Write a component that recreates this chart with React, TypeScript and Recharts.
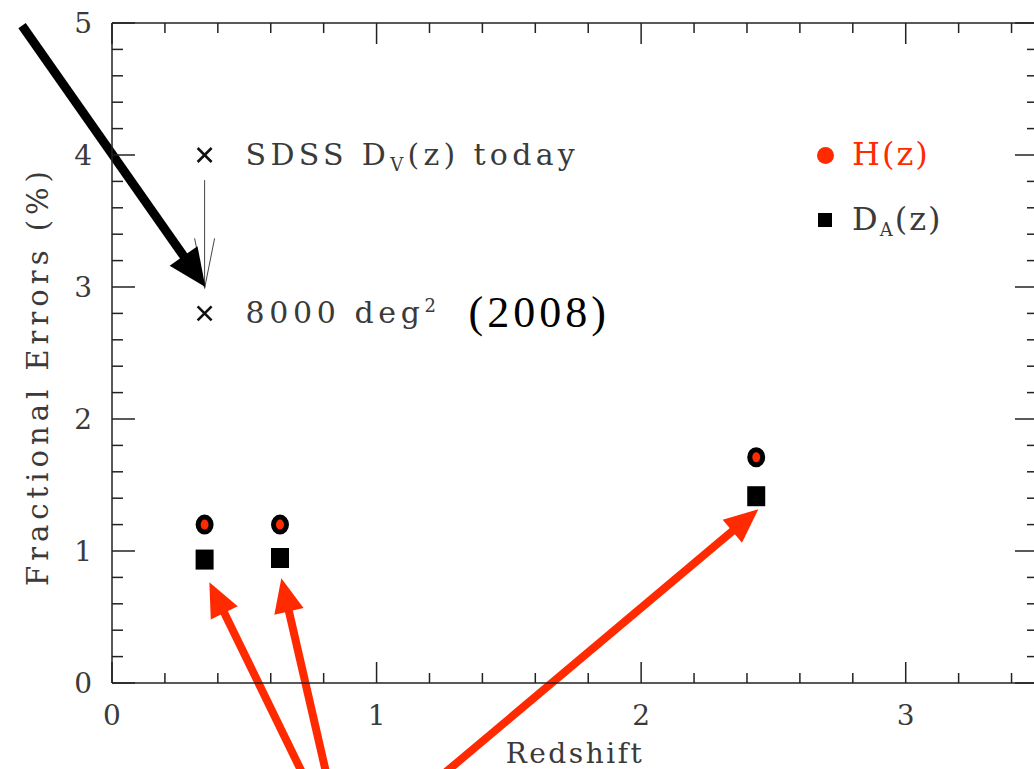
import React from 'react';
import { ScatterChart, Scatter, XAxis, YAxis, ReferenceLine } from 'recharts';

// fractional errors (%) against redshift
const hzRedshift = [0.35, 0.635, 2.435];
const hzError = [1.2, 1.2, 1.71];
const daRedshift = [0.35, 0.635, 2.435];
const daError = [0.935, 0.947, 1.415];
const sdssRedshift = [0.35, 0.35];
const sdssError = [4.0, 2.8];
const sdssLabels = ['today', 'survey'];

const xMajor = [0, 1, 2, 3];
const yMajor = [0, 1, 2, 3, 4, 5];
const xTicks = Array.from({ length: 18 }, (_, i) => Math.round(i * 2) / 10);
const yTicks = Array.from({ length: 26 }, (_, i) => Math.round(i * 2) / 10);

// annotation arrows, [redshift, error] ends
const blackArrow = { from: [-0.34, 4.98], to: [0.353, 3.0] };
const thinArrow = { from: [0.35, 3.81], to: [0.35, 2.99] };
const redArrows = [
  { from: [0.731, -0.73], to: [0.368, 0.763] },
  { from: [0.815, -0.73], to: [0.64, 0.793] },
  { from: [1.229, -0.73], to: [2.443, 1.316] },
];

const hzData = hzRedshift.map((x, i) => ({ x, y: hzError[i] }));
const daData = daRedshift.map((x, i) => ({ x, y: daError[i] }));
const sdssData = sdssRedshift.map((x, i) => ({ x, y: sdssError[i], label: sdssLabels[i] }));

const serif = '"DejaVu Serif", serif';
const grey = '#3a3a3a';
const axisColor = '#222';
const red = '#ff2a00';

const BottomTick = ({ x, y, payload }: any) => {
  const major = xMajor.includes(payload.value);
  return (
    <g>
      <line x1={x} y1={y} x2={x} y2={y - (major ? 21 : 10)} stroke={axisColor} strokeWidth={1.5} />
      {major && (
        <text x={x} y={y + 42} textAnchor="middle" fontFamily={serif} fontSize={28} fill={grey}>
          {payload.value}
        </text>
      )}
    </g>
  );
};

const TopTick = ({ x, y, payload }: any) => {
  const major = xMajor.includes(payload.value);
  return <line x1={x} y1={y} x2={x} y2={y + (major ? 21 : 10)} stroke={axisColor} strokeWidth={1.5} />;
};

const LeftTick = ({ x, y, payload }: any) => {
  const major = yMajor.includes(payload.value);
  return (
    <g>
      <line x1={x} y1={y} x2={x + (major ? 23 : 11)} y2={y} stroke={axisColor} strokeWidth={1.5} />
      {major && (
        <text x={x - 20} y={y + 10} textAnchor="end" fontFamily={serif} fontSize={28} fill={grey}>
          {payload.value}
        </text>
      )}
    </g>
  );
};

const RightTick = ({ x, y, payload }: any) => {
  const major = yMajor.includes(payload.value);
  return <line x1={x} y1={y} x2={x - (major ? 23 : 11)} y2={y} stroke={axisColor} strokeWidth={1.5} />;
};

const YTitle = ({ viewBox }: any) => {
  const cy = viewBox.y + viewBox.height / 2 + 23;
  return (
    <text
      x={38}
      y={cy}
      transform={`rotate(-90, 38, ${cy})`}
      textAnchor="middle"
      dominantBaseline="central"
      fontFamily={serif}
      fontSize={29}
      fill={grey}
      style={{ letterSpacing: 5 }}
    >
      Fractional Errors (%)
    </text>
  );
};

const HzDot = ({ cx, cy }: any) => (
  <ellipse cx={cx} cy={cy} rx={6.5} ry={7.5} fill={red} stroke="#000" strokeWidth={5} />
);

const DaSquare = ({ cx, cy }: any) => <rect x={cx - 9} y={cy - 10} width={18} height={20} fill="#000" />;

const SdssCross = ({ cx, cy, payload }: any) => (
  <g>
    <line x1={cx - 7} y1={cy - 7} x2={cx + 7} y2={cy + 7} stroke="#111" strokeWidth={2.5} />
    <line x1={cx - 7} y1={cy + 7} x2={cx + 7} y2={cy - 7} stroke="#111" strokeWidth={2.5} />
    {payload.label === 'today' ? (
      <text x={cx + 41} y={cy + 10} fontFamily={serif} fontSize={30} fill={grey} style={{ letterSpacing: 4.3 }}>
        SDSS D
        <tspan dy={6} fontSize={18}>V</tspan>
        <tspan dy={-6}>(z) today</tspan>
      </text>
    ) : (
      <g>
        <text x={cx + 41} y={cy + 10} fontFamily={serif} fontSize={30} fill={grey} style={{ letterSpacing: 4.6 }}>
          8000 deg
          <tspan dy={-11} fontSize={18}>2</tspan>
        </text>
        <text x={cx + 264} y={cy + 14} fontFamily='"Liberation Serif", serif' fontSize={44} fill="#000" style={{ letterSpacing: 4 }}>
          (2008)
        </text>
      </g>
    )}
  </g>
);

const arrowShape = (color: string, width: number, headLen: number, headW: number, open = false) => (p: any) => {
  const { x1, y1, x2, y2 } = p;
  const dx = x2 - x1;
  const dy = y2 - y1;
  const len = Math.hypot(dx, dy);
  const ux = dx / len;
  const uy = dy / len;
  const nx = -uy;
  const ny = ux;
  const bx = x2 - ux * headLen;
  const by = y2 - uy * headLen;
  const pts = `${bx + (nx * headW) / 2},${by + (ny * headW) / 2} ${x2},${y2} ${bx - (nx * headW) / 2},${by - (ny * headW) / 2}`;
  if (open) {
    return (
      <g>
        <line x1={x1} y1={y1} x2={x2} y2={y2} stroke={color} strokeWidth={width} />
        <polyline points={pts} fill="none" stroke={color} strokeWidth={width} />
      </g>
    );
  }
  return (
    <g>
      <line x1={x1} y1={y1} x2={bx + ux * 2} y2={by + uy * 2} stroke={color} strokeWidth={width} />
      <polygon points={pts} fill={color} />
    </g>
  );
};

export default function App() {
  return (
    <div style={{ position: 'fixed', left: 0, top: 0, width: 1034, height: 769, overflow: 'hidden', background: '#fff' }}>
      <ScatterChart width={1060} height={769} margin={{ top: 22, right: 21, bottom: 0, left: 0 }}>
        <XAxis
          xAxisId={0}
          type="number"
          dataKey="x"
          domain={[0, 3.5]}
          allowDataOverflow
          ticks={xTicks}
          interval={0}
          height={86}
          tickSize={0}
          tickMargin={0}
          tickLine={false}
          axisLine={{ stroke: axisColor, strokeWidth: 1.5 }}
          tick={<BottomTick />}
          label={{ value: 'Redshift', position: 'insideBottom', offset: 6, fill: grey, fontSize: 28, fontFamily: serif, style: { letterSpacing: 2.5 } }}
        />
        <XAxis
          xAxisId="top"
          orientation="top"
          type="number"
          dataKey="x"
          domain={[0, 3.5]}
          allowDataOverflow
          ticks={xTicks}
          interval={0}
          height={1}
          tickSize={0}
          tickMargin={0}
          tickLine={false}
          axisLine={{ stroke: axisColor, strokeWidth: 1.5 }}
          tick={<TopTick />}
        />
        <YAxis
          yAxisId={0}
          type="number"
          dataKey="y"
          domain={[0, 5]}
          allowDataOverflow
          ticks={yTicks}
          interval={0}
          width={112}
          tickSize={0}
          tickMargin={0}
          tickLine={false}
          axisLine={{ stroke: axisColor, strokeWidth: 1.5 }}
          tick={<LeftTick />}
          label={{ content: YTitle }}
        />
        <YAxis
          yAxisId="right"
          orientation="right"
          type="number"
          dataKey="y"
          domain={[0, 5]}
          allowDataOverflow
          ticks={yTicks}
          interval={0}
          width={1}
          tickSize={0}
          tickMargin={0}
          tickLine={false}
          axisLine={{ stroke: axisColor, strokeWidth: 1.5 }}
          tick={<RightTick />}
        />

        <Scatter name="SDSS" data={sdssData} shape={<SdssCross />} isAnimationActive={false} />
        <Scatter name="H(z)" data={hzData} shape={<HzDot />} isAnimationActive={false} />
        <Scatter name="D_A(z)" data={daData} shape={<DaSquare />} isAnimationActive={false} />

        <ReferenceLine
          segment={[{ x: thinArrow.from[0], y: thinArrow.from[1] }, { x: thinArrow.to[0], y: thinArrow.to[1] }]}
          ifOverflow="visible"
          shape={arrowShape('#444', 1, 50, 20, true)}
        />
        <ReferenceLine
          segment={[{ x: blackArrow.from[0], y: blackArrow.from[1] }, { x: blackArrow.to[0], y: blackArrow.to[1] }]}
          ifOverflow="visible"
          shape={arrowShape('#000', 9, 38, 34)}
        />
        {redArrows.map((a, i) => (
          <ReferenceLine
            key={i}
            segment={[{ x: a.from[0], y: a.from[1] }, { x: a.to[0], y: a.to[1] }]}
            ifOverflow="visible"
            shape={arrowShape(red, 8, 34, 30)}
          />
        ))}
      </ScatterChart>

      {/* legend */}
      <div style={{ position: 'absolute', left: 0, top: 0, fontFamily: serif, fontSize: 32 }}>
        <div style={{ position: 'absolute', left: 817, top: 147, width: 17, height: 17, borderRadius: '50%', background: red }} />
        <div style={{ position: 'absolute', left: 852, top: 134, color: red, whiteSpace: 'nowrap', letterSpacing: 2, lineHeight: '40px' }}>H(z)</div>
        <div style={{ position: 'absolute', left: 818, top: 213, width: 14, height: 14, background: '#000' }} />
        <div style={{ position: 'absolute', left: 852, top: 199, color: grey, whiteSpace: 'nowrap', letterSpacing: 2, lineHeight: '40px' }}>
          D<sub style={{ fontSize: 18, verticalAlign: -6, lineHeight: 0 }}>A</sub>(z)
        </div>
      </div>
    </div>
  );
}
